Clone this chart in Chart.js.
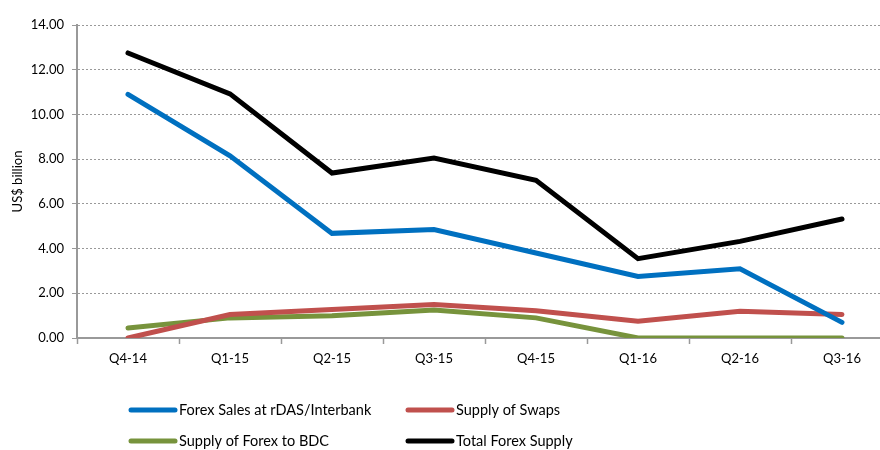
<!DOCTYPE html>
<html>
<head>
<meta charset="utf-8">
<script src="https://cdn.jsdelivr.net/npm/chart.js@4"></script>
<style>
  html, body { margin: 0; padding: 0; background: #fff; overflow: hidden; }
  #wrap { width: 900px; height: 450px; }
</style>
</head>
<body>
<div id="wrap"><canvas id="chart" width="900" height="450"></canvas></div>
<script>
// quarters on the x axis
const quarters = ["Q4-14", "Q1-15", "Q2-15", "Q3-15", "Q4-15", "Q1-16", "Q2-16", "Q3-16"];

// US$ billion
const forexSales = [10.9, 8.15, 4.68, 4.85, 3.8, 2.75, 3.1, 0.7];
const swaps = [0.0, 1.05, 1.28, 1.5, 1.22, 0.75, 1.2, 1.05];
const bdc = [0.45, 0.9, 1.0, 1.25, 0.9, 0.0, 0.0, 0.0];
const totalSupply = [12.75, 10.92, 7.38, 8.05, 7.05, 3.55, 4.32, 5.32];

const yTicks = [0, 2, 4, 6, 8, 10, 12, 14];

const FONT = "Lato, 'Open Sans', sans-serif";

const mkLine = (label, data, color) => ({
  label: label,
  data: data,
  borderColor: color,
  backgroundColor: color,
  borderWidth: 5,
  borderCapStyle: "round",
  borderJoinStyle: "miter",
  pointRadius: 0,
  tension: 0,
  fill: false,
});

// legend in two columns under the axis
const gridLegend = {
  id: "gridLegend",
  afterDraw(chart) {
    const ctx = chart.ctx;
    const cols = [129, 406];
    const rows = [410, 441];
    ctx.save();
    ctx.font = "14.5px " + FONT;
    ctx.textBaseline = "middle";
    ctx.textAlign = "left";
    chart.data.datasets.forEach((ds, i) => {
      const x = cols[i % 2];
      const y = rows[Math.floor(i / 2)];
      ctx.strokeStyle = ds.borderColor;
      ctx.lineWidth = 5;
      ctx.lineCap = "round";
      ctx.beginPath();
      ctx.moveTo(x + 2, y);
      ctx.lineTo(x + 46, y);
      ctx.stroke();
      ctx.fillStyle = "#000";
      ctx.fillText(ds.label, x + 50, y);
    });
    ctx.restore();
  }
};

const ctx = document.getElementById("chart").getContext("2d");
new Chart(ctx, {
  type: "line",
  data: {
    labels: quarters,
    datasets: [
      mkLine("Forex Sales at rDAS/Interbank", forexSales, "#0070C0"),
      mkLine("Supply of Swaps", swaps, "#C0504D"),
      mkLine("Supply of Forex to BDC", bdc, "#77933C"),
      mkLine("Total Forex Supply", totalSupply, "#000000"),
    ]
  },
  options: {
    responsive: false,
    animation: false,
    layout: { padding: { top: 25, right: 7, left: 0, bottom: 0 } },
    plugins: {
      legend: { display: false },
      tooltip: { enabled: false },
    },
    scales: {
      x: {
        offset: true,
        afterFit: (scale) => { scale.height = 112; },
        grid: {
          offset: true,
          drawOnChartArea: false,
          drawTicks: true,
          tickLength: 6,
          tickColor: "#999",
          tickWidth: 1.5,
        },
        border: { color: "#999", width: 2 },
        ticks: { color: "#000", font: { family: FONT, size: 13 }, padding: 7, maxRotation: 0 },
      },
      y: {
        min: 0,
        max: 14,
        afterFit: (scale) => { scale.width = 77; },
        afterBuildTicks: (scale) => { scale.ticks = yTicks.map(v => ({ value: v })); },
        grid: {
          color: "#999",
          lineWidth: 1,
          tickLength: 5,
          tickColor: "#999",
          tickBorderDash: [],
        },
        border: { color: "#999", width: 2, dash: [2, 2] },
        ticks: {
          color: "#000",
          font: { family: FONT, size: 13 },
          padding: 8,
          callback: (v) => Number(v).toFixed(2),
        },
        title: {
          display: true,
          text: "US$ billion",
          color: "#000",
          font: { family: FONT, size: 13 },
          padding: { top: 10, bottom: 2 },
        },
      }
    }
  },
  plugins: [gridLegend]
});
</script>
</body>
</html>
